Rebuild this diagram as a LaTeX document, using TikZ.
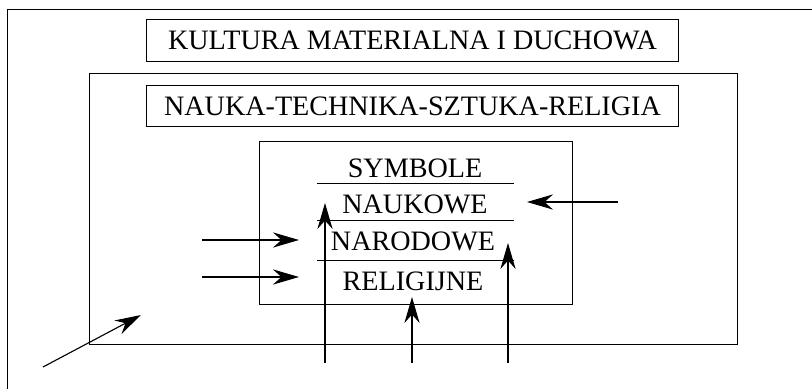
\documentclass[tikz,border=0pt]{standalone}
\usepackage{fontspec}
\setmainfont{Liberation Serif}
\usetikzlibrary{arrows.meta}
\begin{document}
\begin{tikzpicture}[
  x=0.025cm, y=-0.025cm,
  box/.style={draw=black, line width=0.7pt, minimum width=13.275cm, minimum height=1.03cm, inner sep=0pt, font=\fontsize{20}{24}\selectfont},
  lbl/.style={anchor=base, inner sep=0pt, font=\fontsize{20}{24}\selectfont},
  frame/.style={draw=black, line width=0.7pt},
  arr/.style={-{Stealth[length=6.5mm, width=3.8mm]}, line width=0.8pt}
]
  \useasboundingbox (0,0) rectangle (812,389);
  \draw[frame] (7,389) -- (7,9) -- (812,9);
  \node[box] (kultura) at (412.5,40.5) {KULTURA MATERIALNA I DUCHOWA};
  \draw[frame] (89,73) rectangle (737,344);
  \node[box] (nauka) at (412.5,106) {NAUKA-TECHNIKA-SZTUKA-RELIGIA};
  \draw[frame] (259,141) rectangle (572,304);
  \node[lbl] (symbole) at (415,177) {SYMBOLE};
  \node[lbl] (naukowe) at (415,213) {NAUKOWE};
  \node[lbl] (narodowe) at (413,250) {NARODOWE};
  \node[lbl] (religijne) at (413,290) {RELIGIJNE};
  \draw[frame] (317,183) -- (514,183);
  \draw[frame] (317,220) -- (514,220);
  \draw[frame] (317,260) -- (514,260);
  % arrow ends
  \coordinate (l1a) at (202,240);
  \coordinate (l1b) at (299,240);
  \coordinate (l2a) at (202,277);
  \coordinate (l2b) at (299,277);
  \coordinate (ra) at (618,202);
  \coordinate (rb) at (527,202);
  \coordinate (v1a) at (325,363);
  \coordinate (v1b) at (325,203);
  \coordinate (v2a) at (412,363);
  \coordinate (v2b) at (412,297);
  \coordinate (v3a) at (508,363);
  \coordinate (v3b) at (508,243);
  \coordinate (da) at (43,367);
  \coordinate (db) at (141,315);
  \draw[arr] (l1a) -- (l1b);
  \draw[arr] (l2a) -- (l2b);
  \draw[arr] (ra) -- (rb);
  \draw[arr] (v1a) -- (v1b);
  \draw[arr] (v2a) -- (v2b);
  \draw[arr] (v3a) -- (v3b);
  \draw[arr] (da) -- (db);
\end{tikzpicture}
\end{document}
